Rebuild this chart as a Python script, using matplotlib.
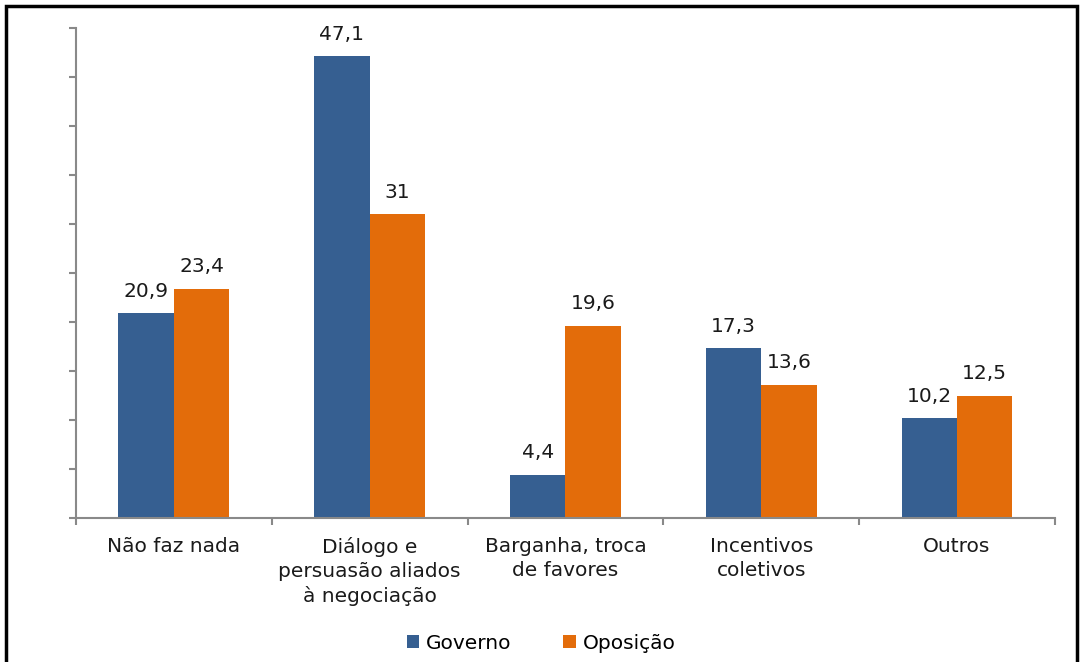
import matplotlib
matplotlib.use("Agg")
from matplotlib import pyplot as plt
from matplotlib.patches import Rectangle
import numpy as np

categorias = ["Não faz nada", "Diálogo e\npersuasão aliados\nà negociação",
              "Barganha, troca\nde favores", "Incentivos\ncoletivos", "Outros"]
governo = [20.9, 47.1, 4.4, 17.3, 10.2]
oposicao = [23.4, 31, 19.6, 13.6, 12.5]
rotulos_gov = ["20,9", "47,1", "4,4", "17,3", "10,2"]
rotulos_op = ["23,4", "31", "19,6", "13,6", "12,5"]

cor_gov = "#365F91"
cor_op = "#E36C0A"
cinza = "#898989"
fs = 14.5

fig = plt.figure(figsize=(10.82, 6.62), dpi=100)
ax = fig.add_axes([0.0702, 0.2175, 0.9048, 0.7402])

x = np.arange(len(categorias))
w = 0.283
b1 = ax.bar(x - w / 2, governo, w, color=cor_gov, label="Governo")
b2 = ax.bar(x + w / 2, oposicao, w, color=cor_op, label="Oposição")

for rect, txt in zip(b1, rotulos_gov):
    ax.annotate(txt, (rect.get_x() + rect.get_width() / 2, rect.get_height()),
                xytext=(0, 9), textcoords="offset points", ha="center", va="bottom",
                fontsize=fs, color="#1a1a1a")
for rect, txt in zip(b2, rotulos_op):
    ax.annotate(txt, (rect.get_x() + rect.get_width() / 2, rect.get_height()),
                xytext=(0, 9), textcoords="offset points", ha="center", va="bottom",
                fontsize=fs, color="#1a1a1a")

ax.set_xlim(-0.5, len(categorias) - 0.5)
ax.set_ylim(0, 50)
ax.set_yticks(np.arange(0, 51, 5))
ax.set_yticklabels([])
ax.set_xticks(np.arange(-0.5, len(categorias), 1))
ax.set_xticklabels([])
ax.set_xticks(x, minor=True)
ax.set_xticklabels(categorias, minor=True, fontsize=fs, color="#1a1a1a", linespacing=1.32)
ax.tick_params(axis="x", which="minor", length=0, pad=14)
ax.tick_params(axis="x", which="major", length=5, width=1.5, color=cinza)
ax.tick_params(axis="y", length=5, width=1.5, color=cinza)

for s in ["top", "right"]:
    ax.spines[s].set_visible(False)
for s in ["left", "bottom"]:
    ax.spines[s].set_color(cinza)
    ax.spines[s].set_linewidth(1.5)

fig.legend(handles=[b1, b2], labels=["Governo", "Oposição"], loc="center",
           bbox_to_anchor=(0.5, 0.028), ncol=2, frameon=False, fontsize=fs,
           handlelength=0.6, handleheight=0.6, handletextpad=0.35, columnspacing=2.6)

fig.patches.append(Rectangle((6 / 1082, -0.02), 1071 / 1082, 1.02 - 6 / 662,
                             transform=fig.transFigure, fill=False,
                             edgecolor="black", linewidth=2.5))

plt.savefig("out.png", dpi=100)
